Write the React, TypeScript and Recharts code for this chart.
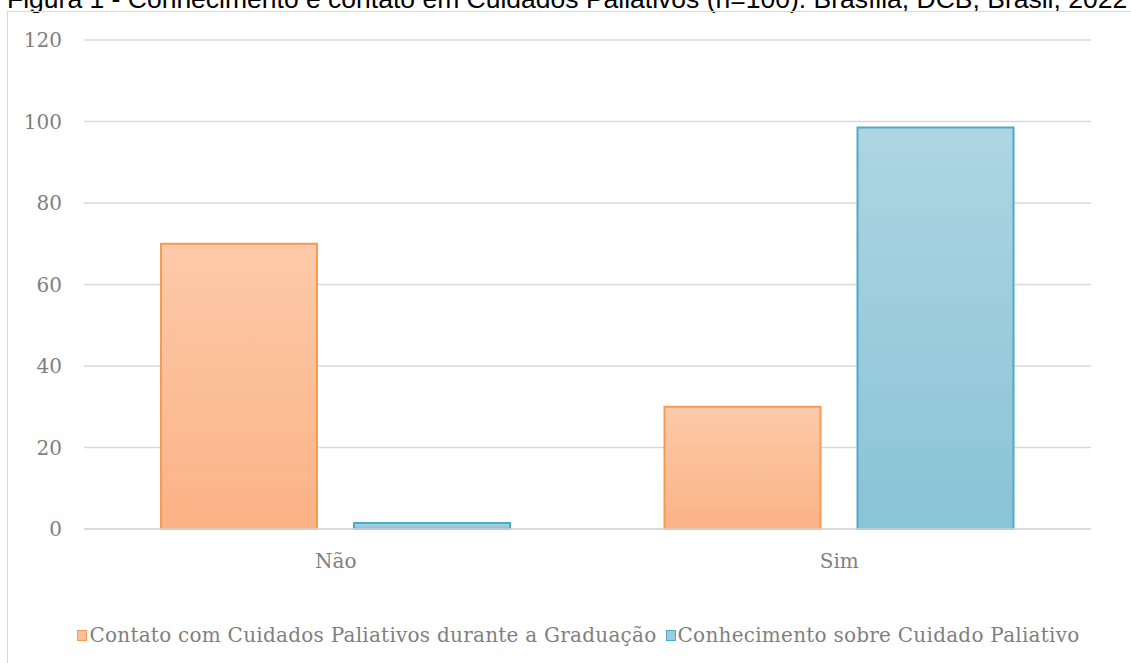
import { BarChart, Bar, XAxis, YAxis, CartesianGrid, Legend } from "recharts";

const categories = ["Não", "Sim"];
const contato = [70, 30];
const conhecimento = [1.5, 98.5];
const yTicks = [0, 20, 40, 60, 80, 100, 120];

const seriesNames = {
  contato: "Contato com Cuidados Paliativos durante a Graduação",
  conhecimento: "Conhecimento sobre Cuidado Paliativo"
};

const data = categories.map((c, i) => ({
  cat: c,
  contato: contato[i],
  conhecimento: conhecimento[i]
}));

const serif = "'DejaVu Serif', serif";

function LegendContent() {
  const items = [
    { name: seriesNames.contato, fill: "#fcbf9a", stroke: "#f59b52" },
    { name: seriesNames.conhecimento, fill: "#9dcddd", stroke: "#4bacc6" }
  ];
  return (
    <div
      style={{
        display: "flex",
        justifyContent: "center",
        alignItems: "center",
        height: 30,
        paddingLeft: 26,
        fontFamily: serif,
        fontSize: 20,
        letterSpacing: 0.25,
        color: "#7f7f7f"
      }}
    >
      {items.map((it, i) => (
        <div key={i} style={{ display: "flex", alignItems: "center", marginRight: i === 0 ? 9 : 0 }}>
          <span
            style={{
              display: "inline-block",
              width: 8,
              height: 9,
              background: it.fill,
              border: `1.5px solid ${it.stroke}`,
              marginRight: 2
            }}
          />
          <span>{it.name}</span>
        </div>
      ))}
    </div>
  );
}

export default function App() {
  return (
    <div style={{ position: "absolute", left: 0, top: 0, width: 1131, height: 663, overflow: "hidden", background: "#fff" }}>
      <div
        style={{
          position: "absolute",
          left: 7,
          top: -14,
          fontFamily: "'Liberation Sans', Arial, sans-serif",
          fontSize: 26.5,
          lineHeight: "26px",
          whiteSpace: "nowrap",
          color: "#000"
        }}
      >
        Figura 1 - Conhecimento e contato em Cuidados Paliativos (n=100). Brasília, DCB, Brasil, 2022
      </div>
      <div
        style={{
          position: "absolute",
          left: 7,
          top: 11,
          width: 1200,
          height: 700,
          border: "1px solid #d9d9d9"
        }}
      />
      <div style={{ position: "absolute", left: 0, top: 0 }}>
        <BarChart
          width={1131}
          height={663}
          data={data}
          margin={{ top: 40, right: 40, left: 24, bottom: 64 }}
          barGap={37}
        >
          <defs>
            <linearGradient id="gradOrange" x1="0" y1="0" x2="0" y2="1">
              <stop offset="0%" stopColor="#fdcaa9" />
              <stop offset="100%" stopColor="#fbb285" />
            </linearGradient>
            <linearGradient id="gradBlue" x1="0" y1="0" x2="0" y2="1">
              <stop offset="0%" stopColor="#aed5e2" />
              <stop offset="100%" stopColor="#89c3d6" />
            </linearGradient>
          </defs>
          <CartesianGrid vertical={false} stroke="#d9d9d9" strokeWidth={1.3} />
          <XAxis
            dataKey="cat"
            height={40}
            axisLine={{ stroke: "#d9d9d9", strokeWidth: 1.5 }}
            tickLine={false}
            tickSize={0}
            tickMargin={25}
            tick={{ fill: "#7f7f7f", fontFamily: serif, fontSize: 20 }}
          />
          <YAxis
            width={60}
            domain={[0, 120]}
            ticks={yTicks}
            axisLine={false}
            tickLine={false}
            tickSize={0}
            tickMargin={22}
            tick={{ fill: "#7f7f7f", fontFamily: serif, fontSize: 20 }}
          />
          <Legend
            verticalAlign="bottom"
            content={() => <LegendContent />}
            wrapperStyle={{ top: 620, left: 0, width: 1131, height: 30 }}
          />
          <Bar
            dataKey="contato"
            name={seriesNames.contato}
            barSize={156}
            fill="url(#gradOrange)"
            stroke="#f59b52"
            strokeWidth={2}
            isAnimationActive={false}
          />
          <Bar
            dataKey="conhecimento"
            name={seriesNames.conhecimento}
            barSize={156}
            fill="url(#gradBlue)"
            stroke="#4bacc6"
            strokeWidth={2}
            isAnimationActive={false}
          />
        </BarChart>
      </div>
    </div>
  );
}
